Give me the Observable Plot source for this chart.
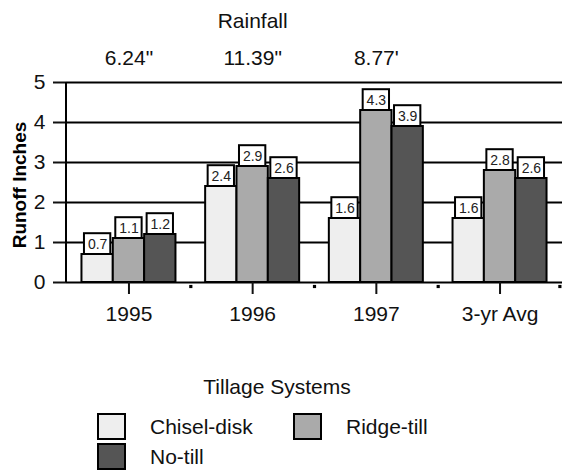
<!DOCTYPE html>
<html>
<head>
<meta charset="utf-8">
<script src="https://cdn.jsdelivr.net/npm/d3@7"></script>
<script src="https://cdn.jsdelivr.net/npm/@observablehq/plot@0.6"></script>
<style>
  body { margin: 0; background: #fff; font-family: "Liberation Sans", Arial, sans-serif; color: #111; }
  #wrap { width: 562px; }
  #legend { position: relative; width: 562px; height: 131px; font-size: 21px; }
  #legend .title { position: absolute; left: 0; width: 554px; text-align: center; top: 35px; line-height: 24px; }
  #legend .sw { position: absolute; width: 29px; height: 27px; box-sizing: border-box; border: 2px solid #000; }
  #legend .lab { position: absolute; line-height: 24px; white-space: nowrap; }
</style>
</head>
<body>
<div id="wrap"></div>
<script>
// ---- data ----
const groups = ["1995", "1996", "1997", "3-yr Avg"];
const systems = ["Chisel-disk", "Ridge-till", "No-till"];
const chiselDisk = [0.7, 2.4, 1.6, 1.6];
const ridgeTill = [1.1, 2.9, 4.3, 2.8];
const noTill = [1.2, 2.6, 3.9, 2.6];
const rainfallYears = ["1995", "1996", "1997"];
const rainfall = ['6.24"', '11.39"', "8.77'"];
const yTicks = [0, 1, 2, 3, 4, 5];
const colors = ["#eeeeee", "#aaaaaa", "#555555"];

const series = [chiselDisk, ridgeTill, noTill];
const rows = series.map((vals, i) => vals.map((v, j) => ({group: groups[j], system: systems[i], value: v})));

const width = 562, height = 340;
const marginLeft = 66, marginRight = 0, marginTop = 82, marginBottom = 58;
const padIn = 0.24, padOut = 0.125;
const step = (width - marginLeft - marginRight) / (groups.length - padIn + 2 * padOut);
const bw = step * (1 - padIn);
const w = bw / 3;

const marks = [Plot.ruleY(yTicks, {stroke: "#000", strokeWidth: 2})];
rows.forEach((r, i) => {
  marks.push(Plot.barY(r, {x: "group", y: "value", fill: colors[i], stroke: "#000", strokeWidth: 2,
    insetLeft: i * w, insetRight: (2 - i) * w}));
});
rows.forEach((r, i) => {
  marks.push(Plot.barY(r, {x: "group", y1: "value", y2: d => d.value + 0.52, fill: "#fff", stroke: "#000", strokeWidth: 2,
    insetLeft: i * w + 2.5, insetRight: (2 - i) * w + 2.5}));
  marks.push(Plot.text(r, {x: "group", y: d => d.value + 0.26, text: d => d.value.toFixed(1), dx: (i - 1) * w,
    fontSize: 14, fill: "#222"}));
});
// small marks at the boundaries between categories, below the baseline
marks.push(Plot.dot(groups.slice(1), {x: d => d, y: () => 0, dx: -step / 2, dy: 4, symbol: "square", r: 1.8, fill: "#000", stroke: null}));
marks.push(Plot.dot(groups.slice(-1), {x: d => d, y: () => 0, dx: step / 2 - 2, dy: 4, symbol: "square", r: 1.8, fill: "#000", stroke: null}));
marks.push(Plot.axisY({ticks: yTicks, tickSize: 13, tickPadding: 8, strokeWidth: 2, fontSize: 21, label: null, tickFormat: d => String(d)}));
marks.push(Plot.axisX({tickSize: 12, tickPadding: 12, strokeWidth: 2, fontSize: 21, label: null}));
marks.push(Plot.text(["Runoff Inches"], {frameAnchor: "left", textAnchor: "middle", lineAnchor: "middle",
  dx: -46.5, dy: 2.5, rotate: -90, fontSize: 19, fontWeight: 900, fill: "#000"}));
marks.push(Plot.text(rainfallYears, {x: d => d, text: (d, i) => rainfall[i], frameAnchor: "top", lineAnchor: "middle",
  dy: -24, fontSize: 21, fill: "#111"}));
marks.push(Plot.text(["Rainfall"], {x: () => rainfallYears[1], frameAnchor: "top", lineAnchor: "middle",
  dy: -61, fontSize: 21, fill: "#111"}));

const chart = Plot.plot({
  width, height, marginLeft, marginRight, marginTop, marginBottom,
  style: {fontFamily: "Liberation Sans, Arial, sans-serif", fontSize: "21px", color: "#111", background: "#fff"},
  x: {domain: groups, paddingInner: padIn, paddingOuter: padOut, round: false, label: null},
  y: {domain: [0, 5], label: null},
  marks
});
// vertical y-axis line at the frame's left edge, using the plot's y scale
const ys = chart.scale("y");
d3.select(chart).append("line")
  .attr("x1", marginLeft).attr("x2", marginLeft)
  .attr("y1", ys.apply(0)).attr("y2", ys.apply(5))
  .attr("stroke", "#000").attr("stroke-width", 2);
document.getElementById("wrap").appendChild(chart);

// legend
const legend = document.createElement("div");
legend.id = "legend";
const t = document.createElement("div");
t.className = "title"; t.textContent = "Tillage Systems";
legend.appendChild(t);
systems.forEach((s, i) => {
  const col = i % 2, row = Math.floor(i / 2);
  const left = 97 + col * 196, top = 73 + row * 30;
  const sw = document.createElement("div");
  sw.className = "sw"; sw.style.left = left + "px"; sw.style.top = top + "px"; sw.style.background = colors[i];
  const lab = document.createElement("div");
  lab.className = "lab"; lab.textContent = s; lab.style.left = (left + 53) + "px"; lab.style.top = (top + 13.5 - 12) + "px";
  legend.appendChild(sw); legend.appendChild(lab);
});
document.getElementById("wrap").appendChild(legend);
</script>
</body>
</html>
